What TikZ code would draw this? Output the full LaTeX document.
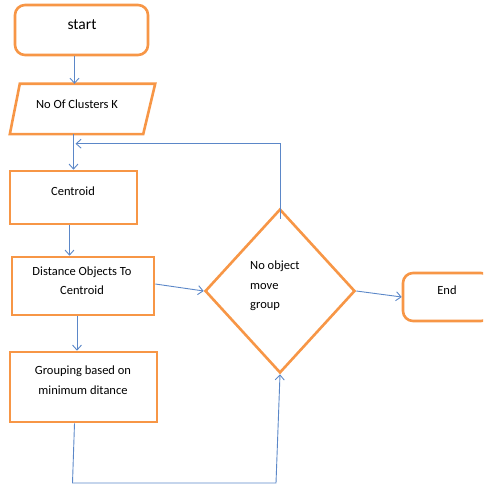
\documentclass[tikz,border=0pt]{standalone}
\usepackage{fontspec}
\setmainfont{Carlito}
\usetikzlibrary{shapes.geometric,arrows.meta,calc}
\definecolor{orng}{HTML}{F79646}
\definecolor{conn}{HTML}{5B87C8}
\begin{document}
\begin{tikzpicture}[x=1pt,y=-1pt,
  shapebox/.style={draw=orng,line width=2.6pt,inner sep=0pt,fill=white},
  lbl/.style={inner sep=0pt,font=\fontsize{12.5}{19.5}\selectfont,align=center},
  conline/.style={draw=conn,line width=0.9pt,-{Straight Barb[length=5pt,width=9pt,line width=0.9pt]}},
  plainline/.style={draw=conn,line width=0.9pt}]
\useasboundingbox (0,0) rectangle (483,486);
\clip (0,0) rectangle (483,486);
% shapes
\node[shapebox,rounded corners=10pt,minimum width=133pt,minimum height=50pt] (start) at (81.5,30) {};
\node[inner sep=0pt,minimum width=145pt,minimum height=50pt] (para) at (82.5,109) {};
\draw[draw=orng,line width=2.6pt,line join=miter] ($(para.north west)+(10,0)$) -- (para.north east) -- ($(para.south east)+(-12,0)$) -- (para.south west) -- cycle;
\node[shapebox,minimum width=127pt,minimum height=53pt] (cen) at (73.5,197.5) {};
\node[shapebox,minimum width=142pt,minimum height=58pt] (dist) at (83,286) {};
\node[shapebox,minimum width=147pt,minimum height=70pt] (grp) at (83.5,387) {};
\node[shapebox,diamond,minimum width=150pt,minimum height=164pt] (dia) at (280,291) {};
\node[shapebox,rounded corners=10pt,minimum width=88pt,minimum height=48pt] (end) at (447,297) {};
% texts
\node[lbl,font=\fontsize{15.5}{18}\selectfont] (tstart) at (82,25) {start};
\node[lbl] (tpara) at (77,104) {No Of Clusters K};
\node[lbl] (tcen) at (73,191) {Centroid};
\node[lbl] (tdist) at (82,280.5) {Distance Objects To\\Centroid};
\node[lbl] (tgrp) at (83,380) {Grouping based on\\minimum ditance};
\node[lbl,align=left,anchor=west] (tdia) at (250,286) {No object\\move\\group};
\node[lbl] (tend) at (447,290) {End};
% connectors
\draw[conline] ([xshift=-7pt]start.south) -- ([xshift=-7pt]start.south |- para.north);
\draw[conline] (para.south -| cen.north) -- (cen.north);
\draw[conline] ([yshift=-11pt]dia.north) -- ($(dia.north)+(0,-64)$) coordinate (fb) -- ($(fb -| cen.north)+(2,0)$);
\draw[conline] ([xshift=-4pt]cen.south) -- ([xshift=-4pt]cen.south |- dist.north);
\draw[conline] ([yshift=2pt]dist.east) -- (dia.west);
\draw[conline] (dia.east) -- (end.west);
\draw[conline] ([xshift=-6pt]dist.south) -- ([xshift=-6pt]dist.south |- grp.north);
\draw[conline] ([xshift=-9pt]grp.south) -- ([xshift=-11pt]grp.south |- 0,483) coordinate (bt) -- ([xshift=-4pt]dia.south |- bt) -- (dia.south);
\end{tikzpicture}
\end{document}
